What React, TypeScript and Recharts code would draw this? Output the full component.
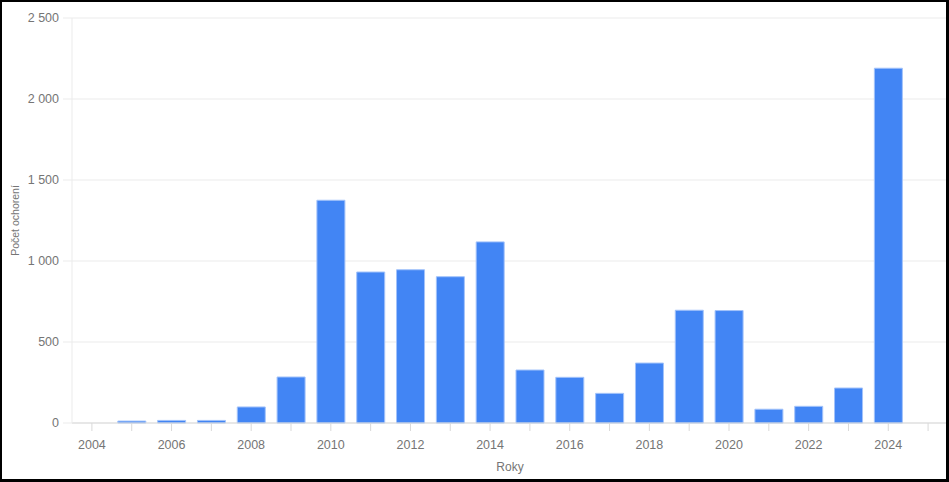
import React from 'react';
import { BarChart, Bar, XAxis, YAxis, CartesianGrid } from 'recharts';

// Počet ochorení podľa rokov
const years = [2004, 2005, 2006, 2007, 2008, 2009, 2010, 2011, 2012, 2013, 2014, 2015, 2016, 2017, 2018, 2019, 2020, 2021, 2022, 2023, 2024];
const cases = [0, 12, 16, 16, 99, 284, 1375, 932, 946, 903, 1118, 327, 282, 183, 370, 696, 694, 85, 103, 216, 2190];

const xTicks = [2004, 2005, 2006, 2007, 2008, 2009, 2010, 2011, 2012, 2013, 2014, 2015, 2016, 2017, 2018, 2019, 2020, 2021, 2022, 2023, 2024, 2025];
const yTicks = [0, 500, 1000, 1500, 2000, 2500];

const data = years.map((year, i) => ({ year, cases: cases[i] }));

const fmtThousands = (v: number) => String(v).replace(/\B(?=(\d{3})+(?!\d))/g, ' ');
const fmtYear = (v: number) => (v % 2 === 0 ? String(v) : '');

const textColor = '#757575';
const font = '"Liberation Sans", Arial, sans-serif';

export default function App() {
  return (
    <div style={{ position: 'fixed', left: 0, top: 0, width: 949, height: 482, background: '#fff', fontFamily: font }}>
      <BarChart width={949} height={482} data={data} margin={{ top: 18, right: 1, bottom: 0, left: 0 }}>
        <CartesianGrid vertical={false} stroke="#ebebeb" />
        <XAxis
          dataKey="year"
          type="number"
          domain={[2003.5, 2025.5]}
          ticks={xTicks}
          interval={0}
          tickFormatter={fmtYear}
          height={59}
          tickSize={8}
          tickMargin={9}
          stroke="#d9d9d9"
          tick={{ fill: textColor, fontSize: 12.5, fontFamily: font }}
          label={{ value: 'Roky', position: 'insideBottom', offset: 11, fill: textColor, fontSize: 12, fontFamily: font }}
        />
        <YAxis
          domain={[0, 2500]}
          ticks={yTicks}
          interval={0}
          tickFormatter={fmtThousands}
          width={72}
          tickSize={9}
          tickMargin={4}
          stroke="#ebebeb"
          tick={{ fill: textColor, fontSize: 12.5, fontFamily: font }}
          label={{ value: 'Počet ochorení', angle: -90, position: 'center', dx: -21, fill: textColor, fontSize: 10.5, fontFamily: font }}
        />
        <Bar dataKey="cases" fill="#4285f4" stroke="#a3c3fa" strokeWidth={1} barSize={28} isAnimationActive={false} />
      </BarChart>
      <div
        style={{
          position: 'absolute',
          inset: 0,
          borderStyle: 'solid',
          borderColor: '#000',
          borderWidth: '2px 3px 3px 2px',
          pointerEvents: 'none',
        }}
      />
    </div>
  );
}
